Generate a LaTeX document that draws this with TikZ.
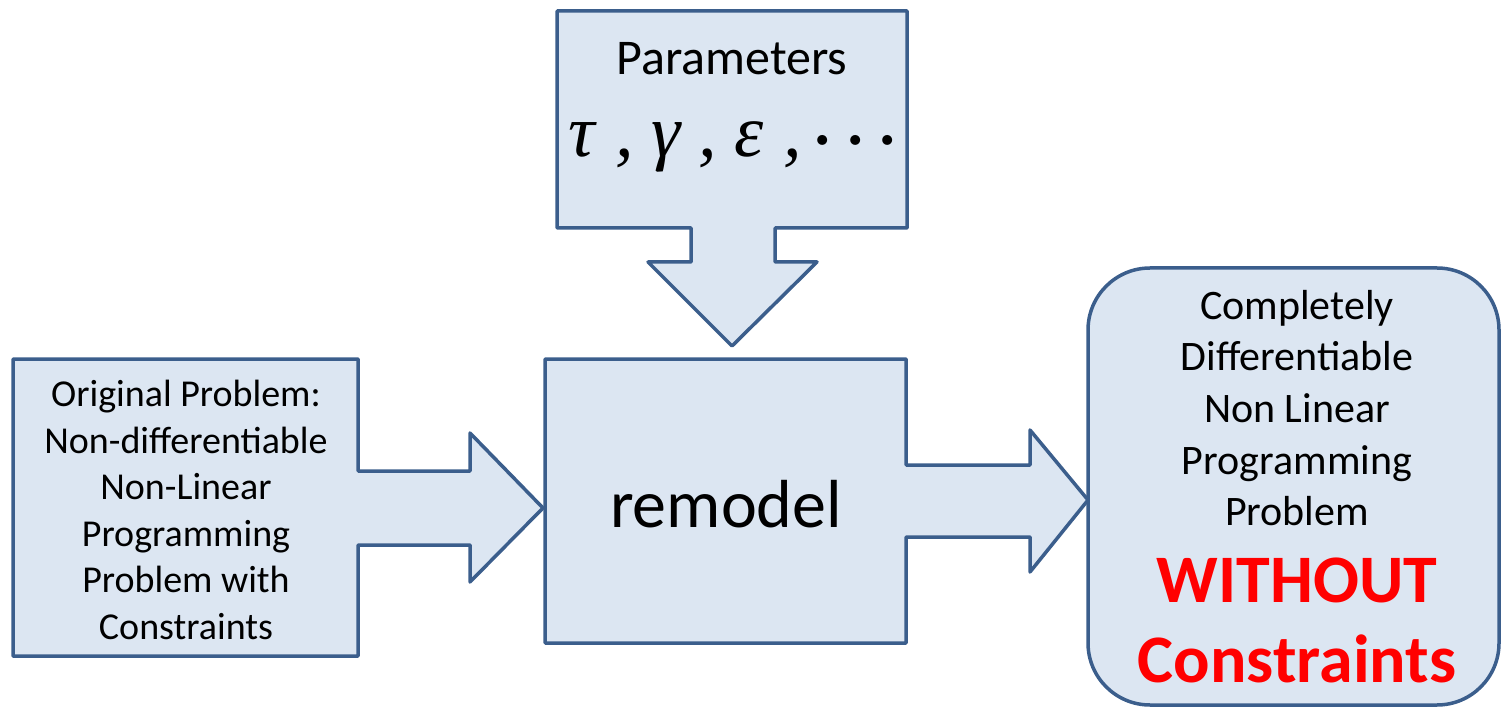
\documentclass[tikz,border=0pt]{standalone}
\usepackage{fix-cm}
\usepackage{fontspec}
\setmainfont{Carlito}
\newfontfamily\grkfont{Liberation Serif}
\definecolor{boxfill}{HTML}{DCE6F2}
\definecolor{boxline}{HTML}{3B5E8C}
\definecolor{warnred}{HTML}{FF0000}
\tikzset{
  calloutshape/.style={fill=boxfill, draw=boxline, line width=3.5pt, line join=round},
  lbl/.style={inner sep=0pt, align=center, text=black}
}
\begin{document}
\begin{tikzpicture}[x=1pt, y=-1pt]
\useasboundingbox (0,0) rectangle (1501,708);
% right rounded box
\draw[calloutshape, rounded corners=62pt] (1088,268) rectangle (1499,705);
% top callout with down arrow
\draw[calloutshape] (557,11) -- (907,11) -- (907,228) -- (775,228) -- (775,262)
  -- (817,262) -- (732,346) -- (648,262) -- (691,262) -- (691,228) -- (557,228) -- cycle;
% left callout with right arrow
\draw[calloutshape] (13,359) -- (358,359) -- (358,471) -- (470,471) -- (470,433)
  -- (543,508) -- (470,582) -- (470,545) -- (358,545) -- (358,656) -- (13,656) -- cycle;
% middle callout with right arrow
\draw[calloutshape] (545,359) -- (906,359) -- (906,465) -- (1030,465) -- (1030,430)
  -- (1088,500) -- (1030,572) -- (1030,537) -- (906,537) -- (906,643) -- (545,643) -- cycle;
% texts
\node[lbl, anchor=base, font=\fontsize{50}{60}\selectfont] (par) at (732,75) {Parameters};
\node[lbl, anchor=base west, font=\grkfont\itshape\fontsize{74}{80}\selectfont] (sym) at (568,157)
  {τ\hspace{21pt},\hspace{17pt}γ\hspace{18pt},\hspace{18pt}ε\hspace{20pt},\hspace{10pt}{\fontsize{64}{70}\selectfont\boldmath$\cdots$}};
\node[lbl, anchor=base, font=\fontsize{68}{80}\selectfont] (rem) at (726,527) {remodel};
\node[lbl, font=\fontsize{38}{46.6}\selectfont] (orig) at (186,510)
  {Original Problem:\\Non-differentiable\\Non-Linear\\Programming\\Problem with\\Constraints};
\node[lbl, font=\fontsize{42}{51.7}\selectfont] (res) at (1297,408)
  {Completely\\Differentiable\\Non Linear\\Programming\\Problem};
\node[lbl, text=warnred, font=\fontsize{68}{80}\selectfont\bfseries] (wo) at (1297,620)
  {WITHOUT\\Constraints};
\end{tikzpicture}
\end{document}
